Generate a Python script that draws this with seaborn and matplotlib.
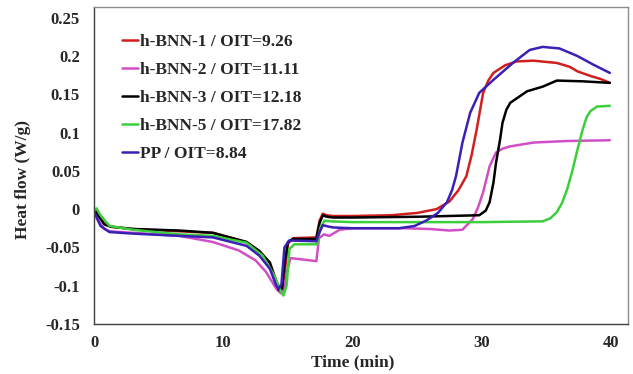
import pandas as pd
import matplotlib
matplotlib.use("Agg")
import matplotlib.pyplot as plt
import seaborn as sns

# DSC curves (time in min, heat flow in W/g)
labels = ["h-BNN-1 / OIT=9.26", "h-BNN-2 / OIT=11.11", "h-BNN-3 / OIT=12.18",
          "h-BNN-5 / OIT=17.82", "PP / OIT=8.84"]
colors = ["#d11f1f", "#d04fc6", "#000000", "#3ccf3c", "#3a20b4"]

t_bnn1 = [0, 0.3, 0.8, 1.3, 3, 6.6, 9.2, 11.8, 12.8, 13.6, 14.1, 14.35, 14.6, 14.8, 15.0, 15.4,
          17.2, 17.45, 17.7, 18.0, 18.5, 20, 23, 25, 26.5, 27.5, 28.2, 28.8, 29.2, 29.6, 30.1,
          30.5, 30.9, 31.8, 32.7, 34, 35.8, 36.8, 37.4, 38.4, 39.2, 39.9]
hf_bnn1 = [0, -0.006, -0.019, -0.023, -0.026, -0.029, -0.031, -0.043, -0.055, -0.07, -0.094,
           -0.104, -0.103, -0.075, -0.045, -0.038, -0.037, -0.015, -0.006, -0.008, -0.009,
           -0.009, -0.008, -0.005, 0.0, 0.010, 0.025, 0.043, 0.07, 0.104, 0.152, 0.168, 0.178,
           0.188, 0.193, 0.194, 0.191, 0.186, 0.18, 0.174, 0.17, 0.165]

t_bnn2 = [0, 0.3, 0.8, 1.2, 3, 6.6, 9.2, 11.2, 12.5, 13.3, 14.1, 14.45, 14.7, 14.95, 15.2,
          17.2, 17.4, 17.8, 18.2, 19.0, 20, 24, 26, 27.5, 28.5, 29.3, 29.7, 30.1, 30.6, 31.1,
          31.6, 32.2, 34, 36.6, 39.9]
hf_bnn2 = [-0.005, -0.015, -0.026, -0.029, -0.031, -0.035, -0.043, -0.054, -0.067, -0.082,
           -0.104, -0.11, -0.105, -0.08, -0.064, -0.068, -0.038, -0.033, -0.035, -0.027,
           -0.025, -0.025, -0.026, -0.028, -0.027, -0.013, 0.002, 0.022, 0.056, 0.074, 0.079,
           0.082, 0.087, 0.089, 0.09]

t_bnn3 = [0, 0.3, 0.8, 1.3, 3, 6.6, 9.2, 11.8, 12.8, 13.6, 14.1, 14.3, 14.55, 14.75, 15.0, 15.4,
          17.2, 17.45, 17.7, 18.0, 18.5, 20, 25, 29.8, 30.3, 30.6, 30.9, 31.1, 31.4, 31.6, 31.9,
          32.2, 33.5, 34.7, 35.8, 37.8, 39.9]
hf_bnn3 = [0, -0.008, -0.02, -0.023, -0.026, -0.028, -0.031, -0.043, -0.055, -0.07, -0.095,
           -0.106, -0.104, -0.07, -0.043, -0.039, -0.039, -0.018, -0.008, -0.010, -0.011,
           -0.011, -0.01, -0.008, -0.002, 0.009, 0.035, 0.061, 0.09, 0.113, 0.13, 0.139, 0.154,
           0.16, 0.168, 0.167, 0.165]

t_bnn5 = [0, 0.2, 0.5, 1.2, 3, 6.6, 9.2, 11.8, 13.05, 13.95, 14.35, 14.65, 14.9, 15.12, 15.5,
          17.24, 17.5, 17.83, 18.3, 20, 30, 34.7, 35.3, 35.8, 36.2, 36.6, 37.0, 37.4, 37.8,
          38.1, 38.4, 38.9, 39.9]
hf_bnn5 = [-0.002, 0.001, -0.008, -0.022, -0.027, -0.033, -0.035, -0.044, -0.061, -0.087,
           -0.104, -0.113, -0.1, -0.052, -0.046, -0.046, -0.025, -0.015, -0.016, -0.017,
           -0.017, -0.016, -0.012, -0.004, 0.008, 0.026, 0.05, 0.078, 0.104, 0.12, 0.128,
           0.134, 0.135]

t_pp = [0, 0.2, 0.5, 1.2, 3, 6.6, 9.2, 11.8, 12.8, 13.6, 14.1, 14.3, 14.5, 14.73, 15.1, 17.2,
        17.45, 17.7, 18.2, 18.5, 20, 23.6, 24.8, 25.7, 26.6, 27.3, 27.7, 28.0, 28.5, 29.1, 29.8,
        30.9, 32.4, 33.7, 34.7, 36.0, 37.4, 38.6, 39.9]
hf_pp = [-0.003, -0.01, -0.022, -0.030, -0.032, -0.035, -0.037, -0.048, -0.061, -0.078, -0.1,
         -0.104, -0.098, -0.05, -0.041, -0.042, -0.03, -0.021, -0.023, -0.024, -0.025, -0.025,
         -0.022, -0.015, -0.005, 0.009, 0.025, 0.043, 0.087, 0.126, 0.152, 0.169, 0.191, 0.208,
         0.212, 0.21, 0.2, 0.189, 0.178]

series = [(t_bnn1, hf_bnn1), (t_bnn2, hf_bnn2), (t_bnn3, hf_bnn3), (t_bnn5, hf_bnn5), (t_pp, hf_pp)]
frames = []
for lab, (t, hf) in zip(labels, series):
    frames.append(pd.DataFrame({"time": t, "heat": hf, "sample": lab}))
df = pd.concat(frames, ignore_index=True)

sns.set_style("white")
plt.rcParams["font.family"] = ["Liberation Serif", "DejaVu Serif"]
plt.rcParams["font.weight"] = "bold"

fig = plt.figure(figsize=(6.33, 3.74), dpi=100)
ax = fig.add_axes([0.1485, 0.134, 0.8435, 0.847])
sns.lineplot(data=df, x="time", y="heat", hue="sample", hue_order=labels,
             palette=colors, sort=False, estimator=None, linewidth=1.8, ax=ax)

ax.set_xlim(0, 41.3)
ax.set_ylim(-0.15, 0.264)
ax.set_xticks([0, 10, 20, 30, 40])
ax.set_yticks([-0.15, -0.1, -0.05, 0, 0.05, 0.1, 0.15, 0.2, 0.25])
ax.set_yticklabels(["-0.15", "-0.1", "-0.05", "0", "0.05", "0.1", "0.15", "0.2", "0.25"])
ax.tick_params(axis="y", length=0, labelsize=12, pad=10)
ax.tick_params(axis="x", length=0, labelsize=12, pad=8)
for lbl in ax.get_xticklabels() + ax.get_yticklabels():
    lbl.set_fontweight("bold")
ax.set_xlabel("Time (min)", fontsize=12.5, fontweight="bold")
ax.set_ylabel("Heat flow (W/g)", fontsize=12.5, fontweight="bold")
ax.xaxis.set_label_coords(0.485, -0.123)
ax.yaxis.set_label_coords(-0.133, 0.457)
ax.xaxis.label.set_va("center")
ax.yaxis.label.set_va("center")

for side in ["top", "right"]:
    ax.spines[side].set_color("#8c8c8c")
for side in ["left", "bottom"]:
    ax.spines[side].set_color("#404040")
for sp in ax.spines.values():
    sp.set_linewidth(1.0)

leg = ax.legend(loc="upper left", bbox_to_anchor=(0.052, 0.915), frameon=False,
                borderpad=0, borderaxespad=0, handlelength=0.92, handletextpad=0.12,
                labelspacing=0.68, prop={"family": "Liberation Serif", "weight": "bold", "size": 12.5})
for line in leg.get_lines():
    line.set_linewidth(1.8)

fig.savefig("out.png", dpi=100)
plt.close(fig)
